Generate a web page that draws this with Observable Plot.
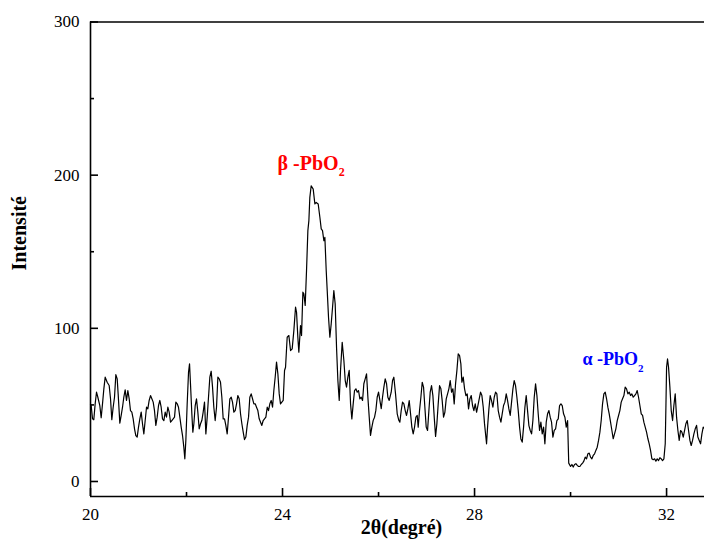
<!DOCTYPE html>
<html><head><meta charset="utf-8">
<script src="https://cdn.jsdelivr.net/npm/d3@7"></script>
<script src="https://cdn.jsdelivr.net/npm/@observablehq/plot@0.6"></script>
<style>body{margin:0;background:#fff}</style>
</head><body><div id="chart"></div>
<script>
const twoTheta = [
20.000,20.014,20.042,20.069,20.097,20.125,20.153,20.194,20.222,20.250,20.278,20.306,20.347,20.389,20.417,20.444,20.472,20.500,20.528,20.556,20.576,20.611,20.639,20.667,20.694,20.722,20.750,20.778,20.806,20.833,20.861,20.889,20.917,20.944,20.972,21.000,21.028,21.056,21.083,21.111,21.139,21.167,21.194,21.222,21.250,21.278,21.306,21.333,21.361,21.389,21.417,21.444,21.472,21.500,21.528,21.556,21.583,21.611,21.639,21.667,21.694,21.722,21.750,21.778,21.806,21.833,21.861,21.889,21.917,21.944,21.965,21.986,22.014,22.042,22.063,22.083,22.111,22.132,22.153,22.181,22.208,22.236,22.264,22.292,22.319,22.347,22.375,22.403,22.431,22.458,22.486,22.514,22.542,22.569,22.597,22.625,22.653,22.681,22.708,22.736,22.764,22.792,22.819,22.847,22.875,22.903,22.931,22.958,22.986,23.014,23.042,23.069,23.097,23.125,23.153,23.181,23.208,23.236,23.264,23.292,23.319,23.347,23.375,23.403,23.431,23.458,23.486,23.514,23.542,23.569,23.597,23.625,23.653,23.681,23.708,23.736,23.764,23.792,23.819,23.847,23.875,23.903,23.931,23.958,23.986,24.014,
24.042,24.063,24.097,24.132,24.167,24.201,24.236,24.271,24.292,24.319,24.340,24.375,24.396,24.424,24.444,24.472,24.500,24.528,24.549,24.569,24.597,24.639,24.674,24.701,24.743,24.778,24.806,24.833,24.861,24.882,24.910,24.931,24.958,24.986,25.014,25.042,25.069,25.097,25.125,25.153,25.181,25.208,25.243,25.278,25.306,25.333,25.361,25.389,25.417,25.444,25.472,25.500,25.528,25.556,25.583,25.611,25.639,25.667,25.694,25.722,25.750,25.778,25.806,25.833,25.861,25.889,25.917,25.944,25.972,26.000,26.028,26.056,26.083,26.111,26.139,26.167,26.194,26.222,
26.264,26.292,26.319,26.354,26.389,26.424,26.444,26.472,26.500,26.528,26.556,26.583,26.611,26.639,26.667,26.694,26.722,26.750,26.778,26.806,26.826,26.854,26.882,26.910,26.938,26.965,26.993,27.021,27.049,27.076,27.104,27.132,27.160,27.188,27.215,27.243,27.271,27.299,27.326,27.354,27.382,27.410,27.438,27.465,27.493,27.521,27.549,27.576,27.604,27.632,27.660,27.688,27.715,27.736,27.764,27.792,27.820,27.847,27.875,27.903,27.931,27.958,27.986,28.014,28.042,28.070,28.097,28.125,28.153,28.181,28.208,28.250,28.271,28.299,28.326,28.354,28.382,28.410,28.438,28.465,28.493,28.521,28.549,28.576,28.604,28.632,28.660,28.688,28.715,28.743,28.771,28.799,28.826,28.854,28.882,28.910,28.938,28.965,28.993,29.021,29.049,29.076,29.104,29.132,29.160,29.188,29.215,29.243,29.271,29.299,29.326,29.354,29.382,29.410,29.438,29.465,29.493,29.521,29.549,29.576,29.604,29.632,29.660,29.688,29.715,29.743,29.771,29.799,29.826,29.854,29.882,29.910,29.938,
29.962,30.000,30.028,30.055,30.083,30.111,30.139,30.166,30.194,30.222,30.250,30.277,30.305,30.333,30.361,30.389,30.416,30.444,30.472,30.500,30.527,30.555,30.583,30.611,30.638,30.666,30.694,30.722,30.750,30.777,30.805,30.833,30.861,30.888,30.916,30.944,30.972,31.000,31.027,31.055,31.083,31.111,31.138,31.166,31.194,31.222,31.250,31.277,31.305,31.333,31.361,31.388,31.416,31.444,31.472,31.500,31.527,31.555,31.583,31.611,31.638,31.666,31.694,31.722,31.750,31.777,31.805,31.833,31.861,31.888,31.916,31.944,31.972,31.986,32.000,32.020,32.041,32.069,32.097,32.125,32.152,32.180,32.208,32.236,32.263,32.291,32.319,32.347,32.375,32.402,32.430,32.458,32.486,32.513,32.541,32.569,32.597,32.625,32.652,32.680,32.708,32.736,32.763,32.791
];
const intensity = [
50,49.6,40.9,40.3,50.7,58.3,55.0,49.6,41.6,50.7,60.5,68.1,64.8,62.7,54.0,40.3,48.5,55.0,69.8,67.0,57.2,38.1,43.1,48.5,55.0,59.8,52.9,59.4,54.0,46.3,45.3,40.9,34.4,30.0,29.0,35.5,40.9,45.3,37.7,31.1,39.8,48.5,47.4,52.9,56.1,54.0,51.8,46.3,36.6,42.0,49.6,52.9,48.5,40.9,39.8,45.3,42.0,48.5,45.3,38.7,39.8,40.9,42.0,51.8,50.7,48.5,42.0,35.5,30.0,22.4,14.8,26.8,50.7,71.3,76.8,63.7,44.2,32.2,37.7,49.6,54.0,45.3,34.4,37.7,39.8,45.3,51.8,31.1,42.0,55.0,68.1,72.0,61.6,48.5,39.8,48.5,68.1,67.0,64.8,55.0,40.9,40.9,36.6,31.1,42.0,54.0,55.0,51.8,45.3,46.3,50.7,56.1,54.0,44.2,37.7,32.2,27.4,29.0,36.6,42.0,55.0,57.2,54.0,50.7,50.7,48.5,46.3,40.9,38.7,36.6,39.8,40.9,42.0,48.5,46.3,50.7,52.9,48.5,59.4,68.1,77.9,70.3,57.2,50.7,51.8,52.9,
72.5,74.6,94.2,95.3,85.5,86.6,98.5,113.8,110.5,94.2,84.4,101.8,95.3,123.6,122.5,114.9,137.7,163.8,170.3,185.5,193.1,190.9,181.2,182.2,181.2,172.5,164.9,163.8,157.2,159.4,137.7,124.6,107.2,94.2,102.9,113.8,124.6,115.9,87.7,65.9,52.9,72.5,90.9,79.0,65.9,61.6,68.1,72.5,50.7,40.9,50.7,59.4,60.5,58.3,59.4,54.0,55.0,52.9,63.8,67.0,70.3,55.0,42.0,30.1,35.5,39.9,42.0,46.4,55.0,58.3,52.9,47.5,55.0,61.6,67.0,63.8,55.0,52.9,
58.3,65.9,68.1,57.2,44.2,39.8,38.7,46.3,51.8,50.7,46.3,43.1,47.4,52.8,44.2,35.5,31.1,35.5,42.0,43.1,35.5,46.3,55.0,64.8,61.5,48.5,35.5,33.3,46.3,58.3,62.6,56.1,42.0,29.4,37.6,50.7,62.6,60.5,52.8,42.0,45.2,53.9,57.2,60.5,65.9,58.3,60.5,50.7,63.7,72.4,83.3,82.2,76.8,64.8,68.1,60.5,56.1,57.2,47.4,53.9,56.1,49.6,46.3,50.7,45.2,49.6,53.9,58.3,56.1,48.5,37.6,24.6,35.5,47.4,56.1,52.8,48.5,55.0,58.3,57.2,46.3,42.0,38.7,44.2,49.6,51.8,57.2,52.8,47.4,43.1,51.8,60.5,65.9,62.6,55.0,46.3,35.5,27.8,25.7,35.5,48.5,56.1,46.3,36.5,33.3,31.1,39.8,55.0,63.7,56.1,44.2,33.3,38.7,31.1,35.5,24.6,38.7,44.2,46.3,42.0,38.7,28.9,33.3,34.4,39.8,40.9,49.6,50.7,49.6,44.2,42.0,35.5,39.8,
12.0,9.8,11.1,9.4,11.1,11.6,10.5,9.8,9.8,11.1,12.0,13.3,15.9,14.8,18.1,18.5,15.9,14.8,17.0,18.1,20.3,22.4,26.8,32.2,39.8,50.7,57.2,58.3,54.0,48.5,44.2,38.7,33.3,27.9,31.1,34.4,39.8,43.1,46.3,51.8,54.0,56.1,61.6,60.5,57.2,58.3,56.1,57.2,55.0,56.1,57.2,59.4,55.0,49.6,44.2,43.1,38.7,35.5,32.2,27.9,24.6,20.3,14.8,14.2,14.8,13.3,14.8,13.7,15.5,14.8,13.7,14.8,24.6,48.5,74.6,80.0,74.6,61.6,46.3,39.8,49.6,57.2,42.0,33.3,26.8,33.3,32.2,29.0,33.3,37.7,39.8,33.3,26.8,23.5,26.8,31.1,34.4,36.6,29.0,26.8,24.6,31.1,35.5,34.4
];
const xTicks = [20, 24, 28, 32];
const xMinor = [22, 26, 30];
const yTicks = [0, 100, 200, 300];
const yMinor = [50, 150, 250];
const xDomain = [20, 32.79];
const yDomain = [-9.8, 300];
const xLabel = "2θ(degré)";
const yLabel = "Intensité";
const phaseLabels = ["β -PbO", "α -PbO"];
const phaseSub = ["2", "2"];
const phaseX = [23.896, 30.25];
const phaseY = [207.8, 79.5];
const phaseColors = ["#ff0000", "#0000ff"];

const data = twoTheta.map((t, i) => ({t, v: intensity[i]}));
const phases = phaseLabels.map((label, i) => ({label, x: phaseX[i], y: phaseY[i], color: phaseColors[i]}));

const plot = Plot.plot({
  width: 704,
  height: 547,
  marginLeft: 90,
  marginRight: 0,
  marginTop: 21.5,
  marginBottom: 51,
  style: {fontFamily: "'Liberation Serif', 'Times New Roman', serif", fontSize: "17px", color: "black", background: "white", overflow: "visible"},
  x: {domain: xDomain},
  y: {domain: yDomain},
  marks: [
    Plot.line(data, {x: "t", y: "v", stroke: "black", strokeWidth: 1.2}),
    Plot.ruleX([xDomain[0]], {stroke: "black", strokeWidth: 1.6}),
    Plot.ruleY([yDomain[0]], {stroke: "black", strokeWidth: 1.6}),
    Plot.ruleY([yDomain[1]], {stroke: "black", strokeWidth: 1.6}),
    Plot.ruleX(xTicks, {y1: yDomain[0], y2: yDomain[0], insetTop: -8, stroke: "black", strokeWidth: 1.6}),
    Plot.ruleX(xMinor, {y1: yDomain[0], y2: yDomain[0], insetTop: -4, stroke: "black", strokeWidth: 1.6}),
    Plot.ruleY(yTicks, {x1: xDomain[0], x2: xDomain[0], insetRight: -8, stroke: "black", strokeWidth: 1.6}),
    Plot.ruleY(yMinor, {x1: xDomain[0], x2: xDomain[0], insetRight: -4, stroke: "black", strokeWidth: 1.6}),
    Plot.axisX({ticks: xTicks, tickSize: 0, tickPadding: 11, label: null, fill: "black"}),
    Plot.axisY({ticks: yTicks, tickSize: 0, tickPadding: 11, label: null, fill: "black"}),
    Plot.text([yLabel], {frameAnchor: "left", text: d => d, rotate: -90, textAnchor: "middle", dx: -71, dy: -26, fontWeight: "bold", fontSize: 20, fill: "black"}),
    Plot.text([xLabel], {frameAnchor: "bottom", text: d => d, textAnchor: "middle", dx: 4, dy: 37.6, fontWeight: "bold", fontSize: 20, fill: "black"}),
    Plot.text([phases[0]], {x: "x", y: "y", text: "label", fill: "color", textAnchor: "start", fontWeight: "bold", fontSize: 20}),
    Plot.text([phases[1]], {x: "x", y: "y", text: "label", fill: "color", textAnchor: "start", fontWeight: "bold", fontSize: 18})
  ]
});
document.getElementById("chart").appendChild(plot);

d3.select(plot).selectAll("text").each(function() {
  const idx = phaseLabels.indexOf(this.textContent);
  if (idx >= 0) {
    d3.select(this).append("tspan")
      .attr("dy", idx === 0 ? 6 : 7)
      .attr("font-size", idx === 0 ? 12 : 11)
      .text(phaseSub[idx]);
  }
});
</script>
</body></html>
